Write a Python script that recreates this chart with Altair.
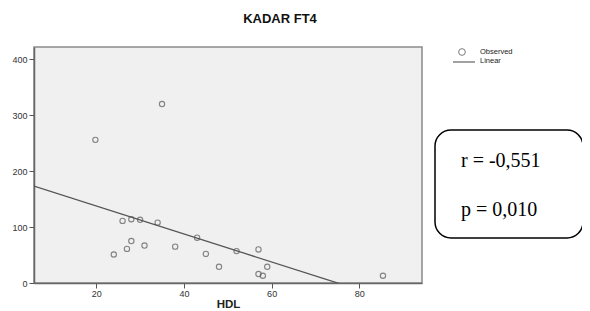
import altair as alt
import pandas as pd

hdl = [19.8, 35.0, 26.0, 28.0, 30.0, 34.0, 24.0, 27.0, 28.0, 31.0,
       38.0, 43.0, 45.0, 48.0, 52.0, 57.0, 59.0, 57.0, 58.0, 85.4]
ft4 = [256, 320, 111, 114, 113, 108, 51, 61, 75, 67,
       65, 81, 52, 29, 57, 60, 29, 16, 13, 13]
x_ticks = [20, 40, 60, 80]
y_ticks = [0, 100, 200, 300, 400]
stats_text = ["r = -0,551", "p = 0,010"]
legend_labels = ["Observed", "Linear"]

df = pd.DataFrame({"hdl": hdl, "ft4": ft4})

W, H = 388, 236
xs = alt.Scale(domain=[5.8, 94.3], nice=False, zero=False)
ys = alt.Scale(domain=[0, 422], nice=False)

axis_common = dict(labelFont="Liberation Sans", labelFontSize=9, labelColor="#333333",
                   tickColor="#555555", tickSize=5, domainColor="#666666", domainWidth=1.5,
                   grid=False, titleFont="Liberation Sans", titleFontWeight="bold",
                   titleFontSize=11.5, titleColor="#222222")

x_enc = alt.X("hdl:Q", scale=xs, title="HDL",
              axis=alt.Axis(values=x_ticks, titlePadding=0, labelPadding=1, **axis_common))
y_enc = alt.Y("ft4:Q", scale=ys, title=None,
              axis=alt.Axis(values=y_ticks, **axis_common))

points = alt.Chart(df).mark_point(shape="circle", filled=False, color="#555555",
                                  size=28, strokeWidth=1.1).encode(x=x_enc, y=y_enc)

fit = alt.Chart(df).transform_regression(
    "hdl", "ft4", extent=[5.8, 94.3]
).mark_line(color="#555555", strokeWidth=1.3, clip=True).encode(x=x_enc, y=y_enc)

# legend (outside plot area)
leg_df = pd.DataFrame({"label": legend_labels})
leg_pt = alt.Chart(leg_df).transform_filter(alt.datum.label == legend_labels[0]).mark_point(
    shape="circle", filled=False, color="#444444", size=45, strokeWidth=1
).encode(x=alt.value(428), y=alt.value(5))
leg_line = alt.Chart(leg_df).transform_filter(alt.datum.label == legend_labels[1]).mark_rule(
    color="#444444", strokeWidth=1
).encode(x=alt.value(419), x2=alt.value(441), y=alt.value(15))


def leg_label(i, ypix):
    return alt.Chart(leg_df).transform_filter(alt.datum.label == legend_labels[i]).mark_text(
        align="left", baseline="middle", font="Liberation Sans", fontSize=7.5, color="#222222"
    ).encode(x=alt.value(446), y=alt.value(ypix), text="label:N")


# annotation box
box_df = pd.DataFrame({"k": [0]})
box = alt.Chart(box_df).mark_rect(
    fill="white", stroke="black", strokeWidth=1.5, cornerRadius=16
).encode(x=alt.value(401), x2=alt.value(549), y=alt.value(83), y2=alt.value(191))

st_df = pd.DataFrame({"t": stats_text})


def stat_label(i, ypix):
    return alt.Chart(st_df).transform_filter(alt.datum.t == stats_text[i]).mark_text(
        align="left", baseline="alphabetic", font="Liberation Serif", fontSize=20, color="black"
    ).encode(x=alt.value(427), y=alt.value(ypix), text="t:N")


chart = alt.layer(
    points, fit, leg_pt, leg_line, leg_label(0, 5), leg_label(1, 14),
    box, stat_label(0, 120), stat_label(1, 169)
).properties(
    width=W, height=H,
    title=alt.Title("KADAR FT4", font="Liberation Sans", fontSize=13, fontWeight="bold",
                    color="#111111", dx=52, offset=21, anchor="middle"),
    autosize=alt.AutoSizeParams(type="none"),
    padding={"left": 26, "top": 39, "right": 160, "bottom": 28},
).configure(
    background="white"
).configure_view(
    fill="#f0f0f0", stroke="#8a8a8a", strokeWidth=1.5
)

chart.save("out.html", embed_options={"renderer": "svg", "actions": False})
